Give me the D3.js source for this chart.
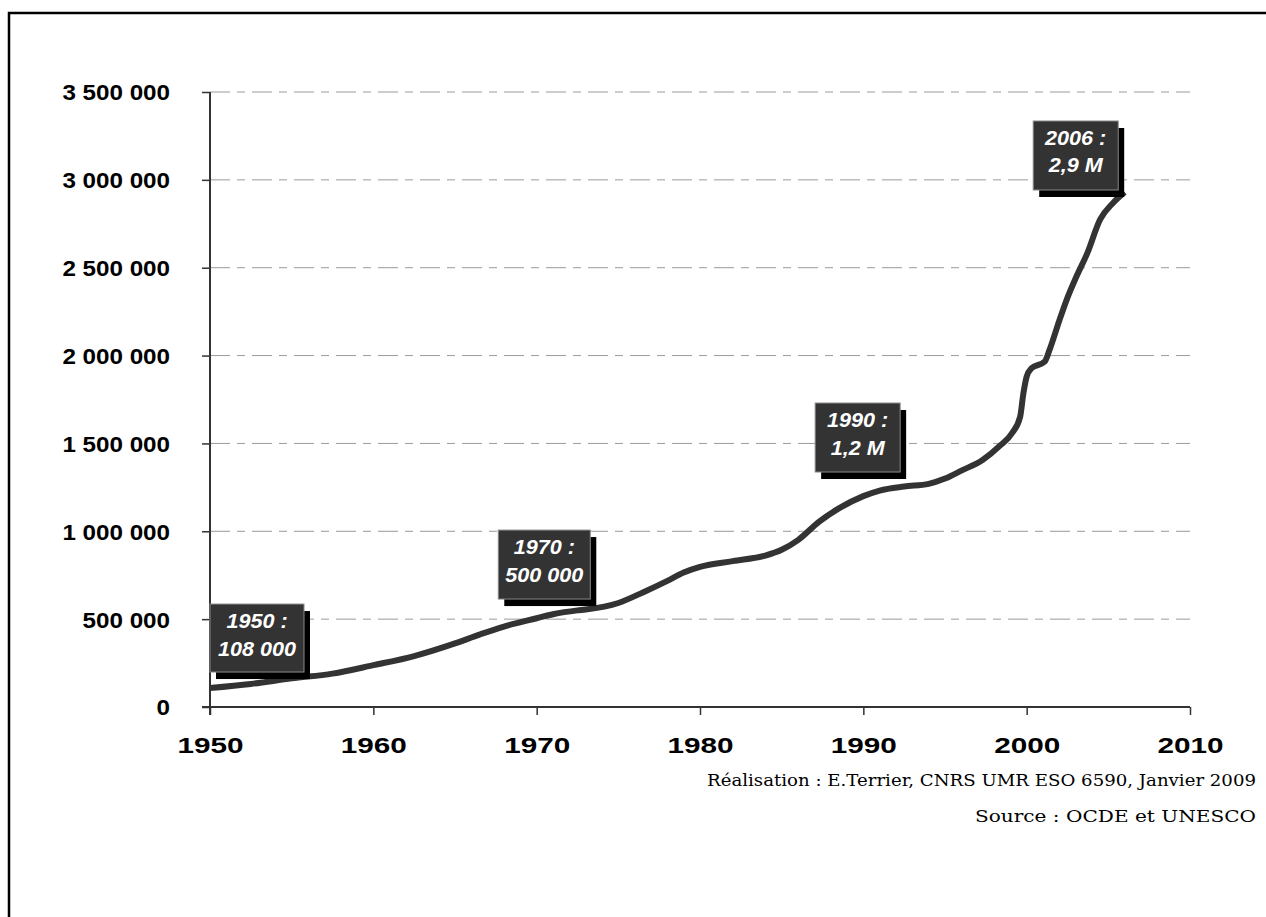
<!DOCTYPE html>
<html>
<head>
<meta charset="utf-8">
<script src="https://cdn.jsdelivr.net/npm/d3@7/dist/d3.min.js"></script>
<style>
  html, body { margin: 0; padding: 0; background: #fff; }
  svg { display: block; }
</style>
</head>
<body>
<svg id="chart" width="1266" height="917"></svg>
<script>
// ---- Data ----
const years = [1950, 1952.5, 1955, 1957.5, 1960, 1962.5, 1965, 1966.5, 1968, 1970,
  1971, 1972.5, 1973, 1975, 1976.5, 1978, 1979, 1980, 1982, 1984,
  1985, 1986, 1987.3, 1988.5, 1990, 1991, 1992.5, 1994, 1995, 1996,
  1997.3, 1998.4, 1999.1, 1999.6, 1999.8, 2000, 2000.3, 2001.1, 2001.4, 2002,
  2002.5, 2003, 2003.7, 2004.5, 2005.3, 2006];
const students = [108000, 131000, 163000, 190000, 238000, 290000, 362000, 412000, 458000, 505000,
  528000, 550000, 555000, 592000, 652000, 718000, 765000, 797000, 830000, 862000,
  895000, 950000, 1055000, 1130000, 1200000, 1232000, 1255000, 1270000, 1300000, 1345000,
  1406000, 1490000, 1558000, 1652000, 1785000, 1880000, 1928000, 1965000, 2032000, 2200000,
  2330000, 2440000, 2580000, 2775000, 2870000, 2930000];
const xTicks = [1950, 1960, 1970, 1980, 1990, 2000, 2010];
const yTicks = [0, 500000, 1000000, 1500000, 2000000, 2500000, 3000000, 3500000];
const annotationLines = [["1950 :", "108 000"], ["1970 :", "500 000"], ["1990 :", "1,2 M"], ["2006 :", "2,9 M"]];
const footerLines = ["Réalisation : E.Terrier, CNRS UMR ESO 6590, Janvier 2009", "Source : OCDE et UNESCO"];

// ---- Layout (box anchors in data units: top-left corner) ----
const annotationBoxes = [
  { x0: 1950, v0: 586000, w: 94, h: 68 },
  { x0: 1967.65, v0: 1007000, w: 92, h: 69 },
  { x0: 1987.05, v0: 1730000, w: 85, h: 69 },
  { x0: 2000.4, v0: 3335000, w: 85, h: 69 }
];
const footerWidths = [549, 281];

const svg = d3.select("#chart");
const x = d3.scaleLinear().domain([1950, 2010]).range([210, 1190]);
const y = d3.scaleLinear().domain([0, 3500000]).range([707, 92]);
const sans = "'Liberation Sans', Arial, Helvetica, sans-serif";

// outer frame
svg.append("rect").attr("x", 9).attr("y", 13).attr("width", 1270).attr("height", 920)
  .attr("fill", "none").attr("stroke", "#000").attr("stroke-width", 2.5);

const fmt = v => d3.format(",")(v).replace(/,/g, " ");

// gridlines
svg.append("g").selectAll("line").data(yTicks.filter(d => d > 0)).join("line")
  .attr("x1", x(1950)).attr("x2", x(2010))
  .attr("y1", d => y(d)).attr("y2", d => y(d))
  .attr("stroke", "#9a9a9a").attr("stroke-width", 1)
  .attr("stroke-dasharray", "20,7,8,7");

// y axis
const yAxis = d3.axisLeft(y).tickValues(yTicks).tickSize(8).tickPadding(32).tickFormat(fmt);
const gy = svg.append("g").attr("transform", `translate(${x(1950)},0)`).call(yAxis);
gy.select(".domain").attr("stroke", "#333").attr("stroke-width", 2).attr("d", `M0,${y(3500000)}V${y(0)+8}`);
gy.selectAll(".tick line").attr("stroke", "#333").attr("stroke-width", 1.5);
gy.selectAll(".tick text").attr("font-family", sans)
  .attr("font-weight", "bold").attr("font-size", 22).attr("fill", "#000")
  .attr("x", 0).attr("dy", "0.36em")
  .attr("transform", "translate(-40,0) scale(1.1,1)");

// x axis
const xAxis = d3.axisBottom(x).tickValues(xTicks).tickSize(8).tickPadding(22).tickFormat(d3.format("d"));
const gx = svg.append("g").attr("transform", `translate(0,${y(0)})`).call(xAxis);
gx.select(".domain").attr("stroke", "#333").attr("stroke-width", 2).attr("d", `M${x(1950)-8},0H${x(2010)}`);
gx.selectAll(".tick line").attr("stroke", "#333").attr("stroke-width", 1.5);
gx.selectAll(".tick text").attr("font-family", sans)
  .attr("font-weight", "bold").attr("font-size", 22).attr("fill", "#000")
  .attr("y", 0).attr("transform", "translate(0,30) scale(1.35,1)");

// line
const data = years.map((yr, i) => ({ yr, v: students[i] }));
svg.append("path").datum(data)
  .attr("fill", "none").attr("stroke", "#333").attr("stroke-width", 6)
  .attr("stroke-linejoin", "round").attr("stroke-linecap", "butt")
  .attr("d", d3.line().x(d => x(d.yr)).y(d => y(d.v)).curve(d3.curveMonotoneX));

// annotations
const ann = svg.append("g").selectAll("g").data(annotationBoxes).join("g")
  .attr("transform", d => `translate(${x(d.x0)},${y(d.v0)})`);
ann.append("rect").attr("x", 6).attr("y", 7).attr("width", d => d.w).attr("height", d => d.h).attr("fill", "#000");
ann.append("rect").attr("x", 0).attr("y", 0).attr("width", d => d.w).attr("height", d => d.h)
  .attr("fill", "#333").attr("stroke", "#8a8a8a").attr("stroke-width", 1);
ann.each(function (d, i) {
  const g = d3.select(this);
  annotationLines[i].forEach((t, j) => {
    g.append("text").attr("x", 0).attr("y", 0)
      .attr("transform", `translate(${d.w / 2},${24 + j * 27.5}) scale(1.08,1)`)
      .attr("text-anchor", "middle")
      .attr("font-family", sans)
      .attr("font-weight", "bold").attr("font-style", "italic")
      .attr("font-size", 20).attr("fill", "#fff").text(t);
  });
});

// footer
svg.append("g").selectAll("text").data(footerLines).join("text")
  .attr("x", (d, i) => 1256 - footerWidths[i]).attr("y", (d, i) => 786 + i * 36)
  .attr("textLength", (d, i) => footerWidths[i]).attr("lengthAdjust", "spacingAndGlyphs")
  .attr("font-family", "'DejaVu Serif', 'Liberation Serif', serif")
  .attr("font-size", 17).attr("fill", "#000").text(d => d);
</script>
</body>
</html>
